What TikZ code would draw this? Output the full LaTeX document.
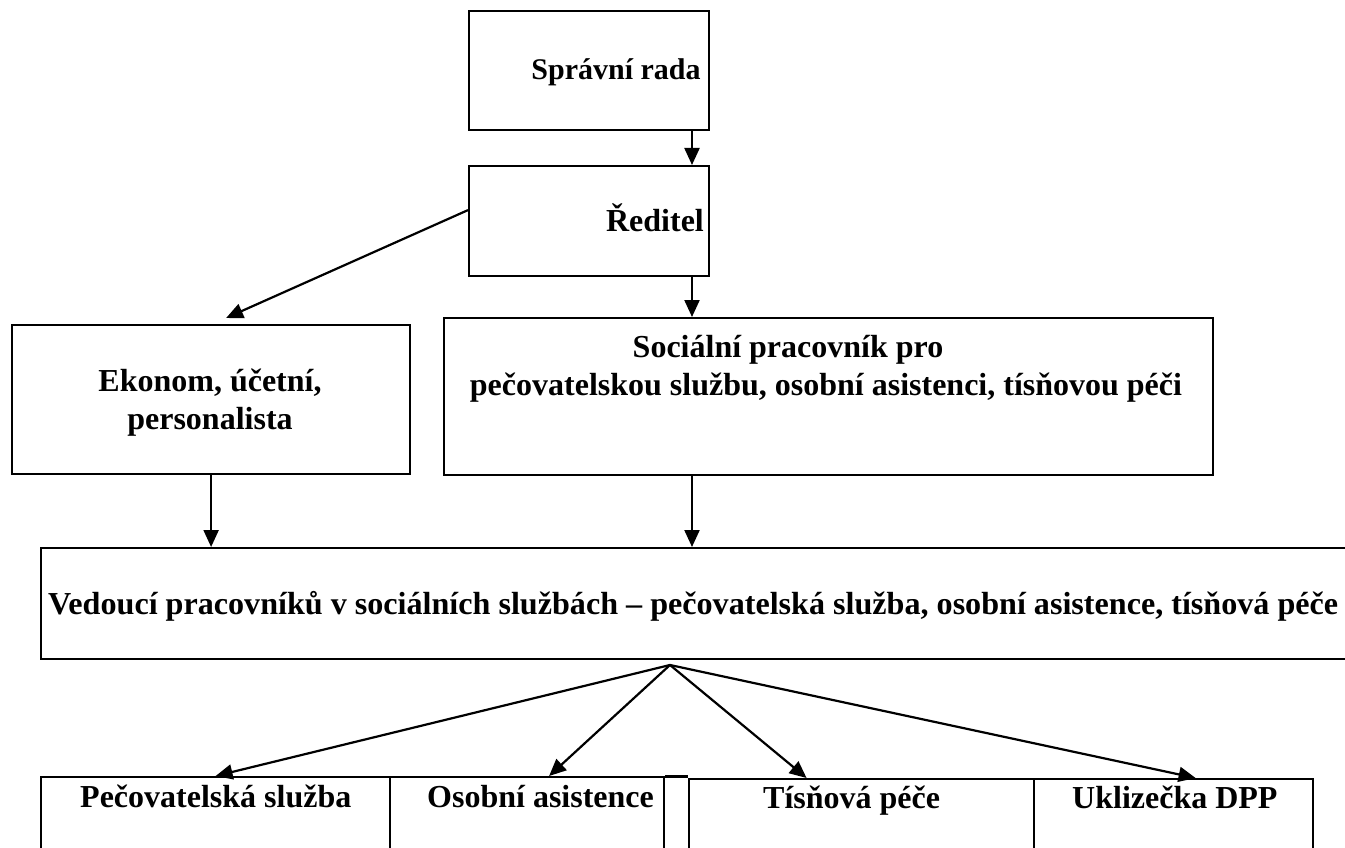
\documentclass[tikz,border=0pt]{standalone}
\usepackage{fontspec}
\setmainfont{Liberation Serif}
\usepackage{graphicx}
\usetikzlibrary{arrows.meta}
\begin{document}
\begin{tikzpicture}[x=1pt,y=-1pt,
  box/.style={draw,line width=2.2pt,inner sep=0pt,anchor=north west},
  lab/.style={inner sep=0pt,anchor=base,font=\fontsize{32}{38}\selectfont\bfseries},
  arr/.style={line width=2.2pt,-{Triangle[length=17pt,width=15pt]}}]
\useasboundingbox (0,0) rectangle (1345,848);
\clip (0,0) rectangle (1345,848);
% boxes
\node[box,minimum width=240pt,minimum height=119pt] (rada) at (468,10) {};
\node[box,minimum width=240pt,minimum height=110pt] (redit) at (468,165) {};
\node[box,minimum width=398pt,minimum height=149pt] (ekon) at (11,324) {};
\node[box,minimum width=769pt,minimum height=157pt] (soc) at (443,317) {};
\node[box,minimum width=1400pt,minimum height=111pt] (big) at (40,547) {};
\node[box,minimum width=349pt,minimum height=100pt] (pec) at (40,776) {};
\node[box,minimum width=274pt,minimum height=100pt] (oso) at (389,776) {};
\node[box,minimum width=345pt,minimum height=100pt] (tis) at (688,778) {};
\node[box,minimum width=279pt,minimum height=100pt] (ukl) at (1033,778) {};
% labels
\node[lab,font=\fontsize{30}{36}\selectfont\bfseries] (radat) at (616,80) {Správní rada};
\node[lab] (reditt) at (655,231) {Ředitel};
\node[lab] (ekont1) at (210,391) {Ekonom, účetní,};
\node[lab] (ekont2) at (210,429) {personalista};
\node[lab] (soct1) at (788,357) {Sociální pracovník pro};
\node[lab] (soct2) at (826,395) {pečovatelskou službu, osobní asistenci, tísňovou péči};
\node[lab,anchor=base west] (bigt) at (48,614) {\resizebox{1290pt}{\height}{Vedoucí pracovníků v sociálních službách – pečovatelská služba, osobní asistence, tísňová péče}};
\node[lab,anchor=base west] (pect) at (80,807) {Pečovatelská služba};
\node[lab,anchor=base west] (osot) at (427,807) {Osobní asistence};
\node[lab,anchor=base west] (tist) at (763,808) {Tísňová péče};
\node[lab,anchor=base west] (uklt) at (1072,808) {Uklizečka DPP};
% connectors
\coordinate (col) at (692,0);
\coordinate (fan) at (670,665);
\draw[arr] (rada.south -| col) -- (redit.north -| col);
\draw[arr] (redit.south -| col) -- (soc.north -| col);
\draw[arr] ([yshift=11pt]redit.west) -- ([xshift=15pt,yshift=6pt]ekon.north);
\draw[arr] (ekon.south) -- (big.north -| ekon.south);
\draw[arr] (soc.south -| col) -- (big.north -| col);
\draw[line width=3pt] (oso.north east) -- (tis.west |- oso.north east);
\draw[arr] (fan) -- (pec.north);
\draw[arr] (fan) -- ([xshift=22pt]oso.north);
\draw[arr] (fan) -- ([xshift=-55pt]tis.north);
\draw[arr] (fan) -- ([xshift=22pt]ukl.north);
\end{tikzpicture}
\end{document}
